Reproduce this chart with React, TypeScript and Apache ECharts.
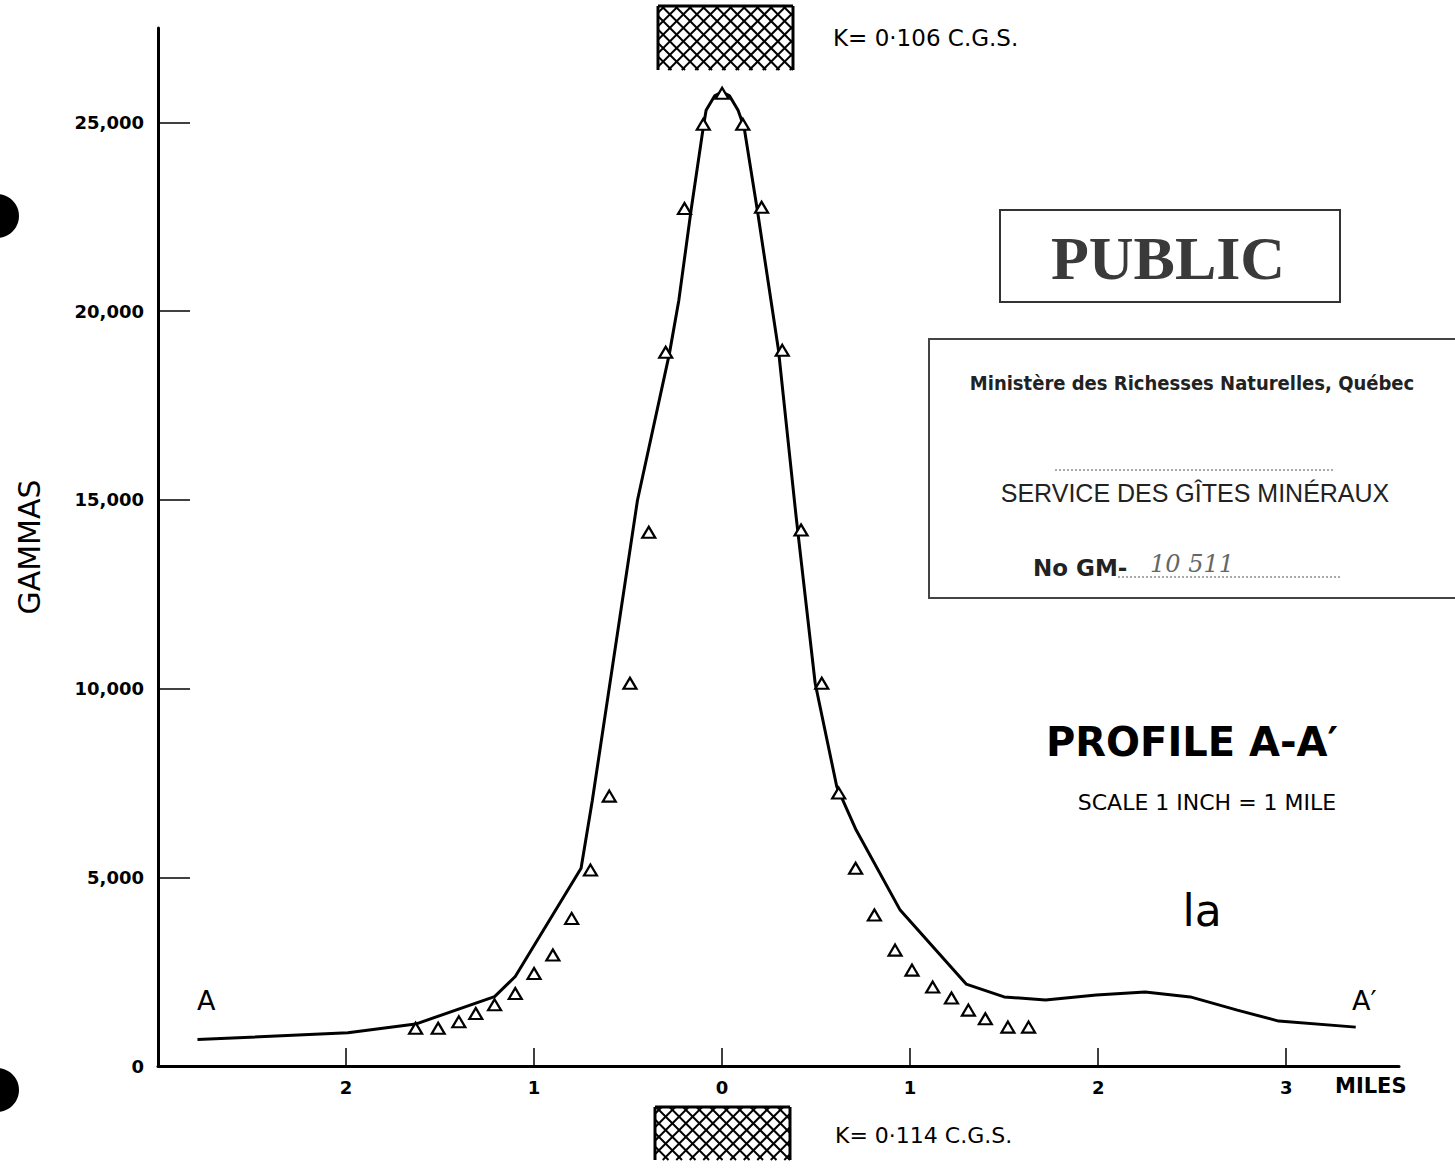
import React, { useEffect, useRef } from "react";
import * as echarts from "echarts";

// Measured profile (solid curve): distance in miles (negative = towards A), gammas
const curveMiles = [-2.79, -1.99, -1.63, -1.21, -1.1, -0.75, -0.69, -0.45, -0.28, -0.23, -0.165, -0.1, -0.085, -0.04, 0, 0.04, 0.085, 0.117, 0.19, 0.3, 0.394, 0.495, 0.61, 0.713, 0.947, 1.298, 1.5, 1.72, 1.99, 2.25, 2.49, 2.74, 2.96, 3.37];
const curveGammas = [700, 880, 1110, 1840, 2370, 5240, 7040, 14990, 18880, 20290, 22670, 24870, 25320, 25700, 25800, 25700, 25320, 24870, 22590, 18960, 14540, 10140, 7400, 6250, 4130, 2170, 1830, 1750, 1880, 1960, 1830, 1480, 1190, 1030];

// Computed points (triangles)
const pointMiles = [-1.63, -1.51, -1.4, -1.31, -1.21, -1.1, -1.0, -0.9, -0.8, -0.7, -0.6, -0.49, -0.39, -0.3, -0.2, -0.1, 0, 0.11, 0.21, 0.32, 0.42, 0.53, 0.62, 0.71, 0.81, 0.92, 1.01, 1.12, 1.22, 1.31, 1.4, 1.52, 1.63];
const pointGammas = [1000, 1000, 1170, 1390, 1620, 1920, 2450, 2940, 3910, 5190, 7150, 10140, 14140, 18910, 22720, 24950, 25770, 24950, 22750, 18960, 14200, 10140, 7230, 5240, 4000, 3070, 2540, 2090, 1800, 1480, 1250, 1030, 1030];

const xTickValues = [-2, -1, 0, 1, 2, 3];
const yTickValues = [0, 5000, 10000, 15000, 20000, 25000];

const LETTER = "'DejaVu Sans', Verdana, sans-serif";

function hatch(x0: number, y0: number, w: number, h: number, step: number) {
  const els: any[] = [];
  const ls = { stroke: "#000", lineWidth: 2 };
  for (let c = -h; c <= w; c += step) {
    const xs = Math.max(x0 + c, x0);
    const ys = y0 + (xs - x0 - c);
    const xe = Math.min(x0 + c + h, x0 + w);
    const ye = y0 + (xe - x0 - c);
    if (xe > xs) els.push({ type: "line", shape: { x1: xs, y1: ys, x2: xe, y2: ye }, style: ls });
  }
  for (let c = step / 2; c <= w + h; c += step) {
    const xs = Math.max(x0, x0 + c - h);
    const ys = y0 + c - (xs - x0);
    const xe = Math.min(x0 + w, x0 + c);
    const ye = y0 + c - (xe - x0);
    if (xe > xs) els.push({ type: "line", shape: { x1: xs, y1: ys, x2: xe, y2: ye }, style: ls });
  }
  els.push({ type: "line", shape: { x1: x0, y1: y0, x2: x0, y2: y0 + h }, style: { stroke: "#000", lineWidth: 3 } });
  els.push({ type: "line", shape: { x1: x0 + w, y1: y0, x2: x0 + w, y2: y0 + h }, style: { stroke: "#000", lineWidth: 3 } });
  els.push({ type: "line", shape: { x1: x0, y1: y0, x2: x0 + w, y2: y0 }, style: { stroke: "#000", lineWidth: 3 } });
  return els;
}

function txt(text: string, x: number, y: number, size: number, opts: any = {}) {
  return {
    type: "text",
    x,
    y,
    style: {
      text,
      fontSize: size,
      fontFamily: opts.family || LETTER,
      fontWeight: opts.weight || "normal",
      fontStyle: opts.style || "normal",
      fill: opts.fill || "#000",
      align: opts.align || "left",
      verticalAlign: "middle",
    },
  };
}

export default function App() {
  const ref = useRef<HTMLDivElement>(null);
  useEffect(() => {
    if (!ref.current) return;
    const chart = echarts.init(ref.current, null, { renderer: "svg" });
    const curve = curveMiles.map((m, i) => [m, curveGammas[i]]);
    const pts = pointMiles.map((m, i) => [m, pointGammas[i]]);
    const axisLabelStyle = { fontFamily: LETTER, fontWeight: "bold", color: "#000" };
    const graphic: any[] = [
      { type: "circle", shape: { cx: -3, cy: 216, r: 22 }, style: { fill: "#000" } },
      { type: "circle", shape: { cx: -3, cy: 1090, r: 22 }, style: { fill: "#000" } },
      ...hatch(658, 6, 135, 64, 13.5),
      ...hatch(655, 1107, 135, 53, 13.5),
      txt("K= 0·106 C.G.S.", 833, 38, 23),
      txt("K= 0·114 C.G.S.", 835, 1135, 22),
      txt("A", 197, 1000, 27),
      txt("A′", 1352, 1000, 27),
      txt("MILES", 1335, 1086, 21, { weight: "bold" }),
      { type: "rect", shape: { x: 1000, y: 210, width: 340, height: 92 }, style: { fill: "none", stroke: "#333", lineWidth: 2 } },
      txt("PUBLIC", 1168, 258, 62, { family: "'Liberation Serif', 'DejaVu Serif', serif", weight: "bold", align: "center", fill: "#3a3a3a" }),
      { type: "rect", shape: { x: 929, y: 339, width: 540, height: 259 }, style: { fill: "none", stroke: "#444", lineWidth: 2 } },
      txt("Ministère des Richesses Naturelles, Québec", 1192, 383, 20, { family: "'Liberation Sans Narrow', 'DejaVu Sans Condensed', 'DejaVu Sans', sans-serif", weight: "bold", align: "center", fill: "#222" }),
      { type: "line", shape: { x1: 1055, y1: 470, x2: 1335, y2: 470 }, style: { stroke: "#555", lineWidth: 1, lineDash: [2, 2] } },
      txt("SERVICE DES GÎTES MINÉRAUX", 1195, 493, 25, { family: "'Liberation Sans', Arial, sans-serif", align: "center", fill: "#222" }),
      txt("No GM-", 1033, 568, 23, { weight: "bold", fill: "#222" }),
      { type: "line", shape: { x1: 1118, y1: 577, x2: 1340, y2: 577 }, style: { stroke: "#555", lineWidth: 1, lineDash: [2, 2] } },
      txt("10 511", 1150, 564, 24, { family: "'DejaVu Serif', serif", style: "italic", fill: "#666" }),
      txt("PROFILE A-A′", 1192, 742, 40, { weight: "bold", align: "center" }),
      txt("SCALE 1 INCH = 1 MILE", 1207, 802, 22, { align: "center" }),
      txt("la", 1202, 910, 44, { align: "center" }),
    ];
    chart.setOption({
      animation: false,
      backgroundColor: "#fff",
      grid: { left: 158, right: 56, top: 28, bottom: 104, containLabel: false },
      xAxis: {
        type: "value",
        min: -3,
        max: 3.6,
        axisLine: { show: true, onZero: false, lineStyle: { color: "#000", width: 3 } },
        axisTick: { show: true, inside: true, length: 18, lineStyle: { color: "#000", width: 1.5 }, customValues: xTickValues },
        axisLabel: {
          ...axisLabelStyle,
          fontSize: 18,
          margin: 12,
          customValues: xTickValues,
          formatter: (v: number) => String(Math.abs(v)),
        },
        splitLine: { show: false },
      },
      yAxis: {
        type: "value",
        min: 0,
        max: 27500,
        name: "GAMMAS",
        nameLocation: "middle",
        nameRotate: 90,
        nameGap: 114,
        nameTextStyle: { fontFamily: LETTER, fontSize: 30, color: "#000" },
        axisLine: { show: true, onZero: false, lineStyle: { color: "#000", width: 3 } },
        axisTick: { show: true, inside: true, length: 32, lineStyle: { color: "#000", width: 1.5 }, customValues: yTickValues },
        axisLabel: {
          ...axisLabelStyle,
          fontSize: 18,
          margin: 14,
          customValues: yTickValues,
          formatter: (v: number) => v.toLocaleString("en-US"),
        },
        splitLine: { show: false },
      },
      series: [
        {
          type: "line",
          data: curve,
          symbol: "none",
          lineStyle: { color: "#000", width: 3 },
          z: 2,
        },
        {
          type: "scatter",
          data: pts,
          symbol: "triangle",
          symbolSize: [13, 11],
          itemStyle: { color: "#fff", borderColor: "#000", borderWidth: 2.2, opacity: 1 },
          z: 3,
        },
      ],
      graphic,
    });
    return () => chart.dispose();
  }, []);
  return (
    <div
      ref={ref}
      style={{ position: "fixed", left: 0, top: 0, width: 1455, height: 1170, background: "#fff" }}
    />
  );
}
